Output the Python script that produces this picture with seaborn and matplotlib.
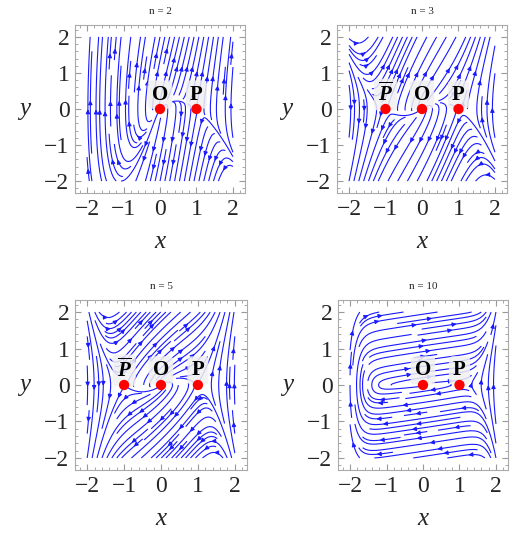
import numpy as np
import pandas as pd
import matplotlib
matplotlib.use("Agg")
import matplotlib.pyplot as plt
import seaborn as sns

sns.set_style("ticks")
plt.rcParams['font.family'] = ['Liberation Serif', 'DejaVu Serif']
plt.rcParams['mathtext.fontset'] = 'custom'
plt.rcParams['mathtext.it'] = 'Liberation Serif:bold:italic'
plt.rcParams['mathtext.rm'] = 'Liberation Serif:bold'

# panel parameters
n_values = [2, 3, 5, 10]
damping = [5.0, 2.0, 1.0, 0.15]     # coefficient of y in dy/dt
stiffness = [4.5, 1.0, 0.4, 0.01]   # coefficient of (x^n - x) in dy/dt
fixed_x = [[0, 1], [-1, 0, 1], [-1, 0, 1], [0, 1]]
fixed_labels = [["O", "P"], [r"$\overline{P}$", "O", "P"],
                [r"$\overline{P}$", "O", "P"], ["O", "P"]]
ticks = [-2, -1, 0, 1, 2]

fig = plt.figure(figsize=(5.17, 5.5), dpi=100)
positions = [
    [75/517, 1-193/550, 170/517, 168/550],
    [337/517, 1-193/550, 170/517, 168/550],
    [75/517, 1-470/550, 172/517, 170/550],
    [338/517, 1-470/550, 170/517, 170/550],
]

grid = np.linspace(-2, 2, 200)
X, Y = np.meshgrid(grid, grid)

for i, n in enumerate(n_values):
    ax = fig.add_axes(positions[i])
    a = damping[i]
    c = stiffness[i]
    U = Y
    V = a * Y + c * (X**n - X)
    ax.streamplot(X, Y, U, V, color=(0.1, 0.1, 1.0), linewidth=0.8,
                  density=1.05, arrowsize=0.6, minlength=0.15,
                  broken_streamlines=True)
    df = pd.DataFrame({"x": fixed_x[i], "y": [0]*len(fixed_x[i])})
    for xv, lab in zip(fixed_x[i], fixed_labels[i]):
        ax.text(xv, 0.40, lab, ha='center', va='center', fontsize=15,
                fontweight='bold', color='black', zorder=5,
                bbox=dict(boxstyle='round,pad=0.2', fc=(0.94, 0.94, 0.94),
                          ec='none', alpha=0.85))
    sns.scatterplot(data=df, x="x", y="y", ax=ax, color='red', s=55,
                    edgecolor='none', zorder=6, legend=False)
    ax.set_xlim(-2.33, 2.33)
    ax.set_ylim(-2.33, 2.33)
    ax.set_xticks(ticks)
    ax.set_yticks(ticks)
    ax.set_xticklabels([str(t).replace('-', '\u2212') for t in ticks])
    ax.set_yticklabels([str(t).replace('-', '\u2212') for t in ticks])
    ax.set_xticks(np.arange(-2.2, 2.21, 0.2), minor=True)
    ax.set_yticks(np.arange(-2.2, 2.21, 0.2), minor=True)
    ax.tick_params(which='both', direction='in', top=True, right=True,
                   color='#999999', labelsize=17, pad=4)
    ax.tick_params(which='major', length=4)
    ax.tick_params(which='minor', length=2)
    for sp in ax.spines.values():
        sp.set_color('#aaaaaa')
        sp.set_linewidth(0.8)
    ax.set_xlabel("x", fontsize=18, fontstyle='italic', labelpad=8)
    ax.set_ylabel("y", fontsize=18, fontstyle='italic', rotation=0,
                  labelpad=14, va='center')
    ax.set_title(f"n = {n}", fontsize=8, pad=8)

fig.savefig("out.png", dpi=100)
